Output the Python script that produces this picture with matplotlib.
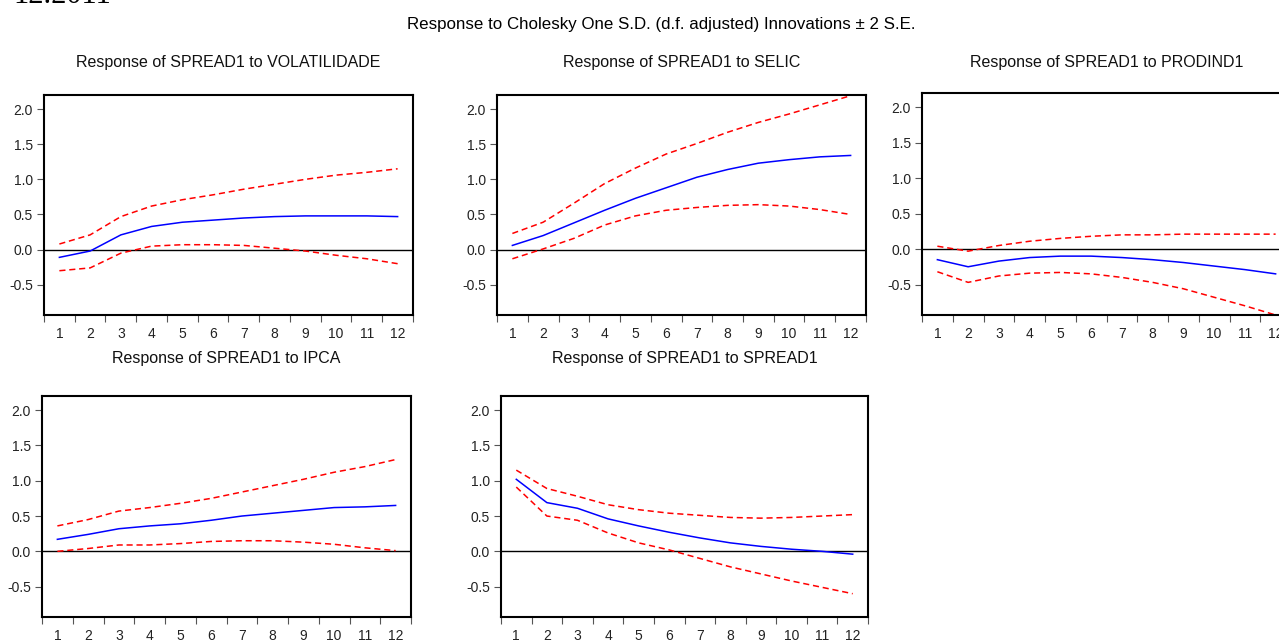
import matplotlib
matplotlib.use("Agg")
import matplotlib.pyplot as plt
from matplotlib.ticker import FixedLocator, NullFormatter, FixedFormatter

plt.rcParams['font.family'] = ['Liberation Sans', 'DejaVu Sans']

periods = list(range(1, 13))

# impulse responses: response, upper band, lower band
vol_resp = [-0.11, -0.02, 0.21, 0.33, 0.39, 0.42, 0.45, 0.47, 0.48, 0.48, 0.48, 0.47]
vol_up = [0.08, 0.21, 0.47, 0.62, 0.71, 0.78, 0.86, 0.93, 1.00, 1.06, 1.10, 1.15]
vol_lo = [-0.30, -0.26, -0.05, 0.05, 0.07, 0.07, 0.06, 0.02, -0.02, -0.08, -0.13, -0.20]

selic_resp = [0.06, 0.20, 0.38, 0.56, 0.73, 0.88, 1.03, 1.14, 1.23, 1.28, 1.32, 1.34]
selic_up = [0.23, 0.39, 0.66, 0.94, 1.16, 1.36, 1.51, 1.67, 1.81, 1.93, 2.06, 2.19]
selic_lo = [-0.13, 0.01, 0.16, 0.35, 0.48, 0.56, 0.60, 0.63, 0.64, 0.62, 0.57, 0.50]

prod_resp = [-0.15, -0.25, -0.17, -0.12, -0.10, -0.10, -0.12, -0.15, -0.19, -0.24, -0.29, -0.35]
prod_up = [0.04, -0.03, 0.05, 0.11, 0.15, 0.18, 0.20, 0.20, 0.21, 0.21, 0.21, 0.21]
prod_lo = [-0.32, -0.47, -0.38, -0.34, -0.33, -0.35, -0.40, -0.47, -0.56, -0.68, -0.80, -0.93]

ipca_resp = [0.17, 0.24, 0.32, 0.36, 0.39, 0.44, 0.50, 0.54, 0.58, 0.62, 0.63, 0.65]
ipca_up = [0.36, 0.45, 0.57, 0.62, 0.68, 0.75, 0.84, 0.93, 1.02, 1.12, 1.20, 1.30]
ipca_lo = [0.00, 0.04, 0.09, 0.09, 0.11, 0.14, 0.15, 0.15, 0.13, 0.10, 0.05, 0.01]

spread_resp = [1.02, 0.69, 0.61, 0.46, 0.36, 0.27, 0.19, 0.12, 0.07, 0.03, 0.00, -0.04]
spread_up = [1.15, 0.89, 0.78, 0.66, 0.59, 0.54, 0.51, 0.48, 0.47, 0.48, 0.50, 0.52]
spread_lo = [0.91, 0.50, 0.44, 0.26, 0.12, 0.02, -0.10, -0.22, -0.32, -0.42, -0.51, -0.60]

titles = ["Response of SPREAD1 to VOLATILIDADE", "Response of SPREAD1 to SELIC",
          "Response of SPREAD1 to PRODIND1", "Response of SPREAD1 to IPCA",
          "Response of SPREAD1 to SPREAD1"]
yticks = [-0.5, 0.0, 0.5, 1.0, 1.5, 2.0]

W, H = 1279, 644
fig = plt.figure(figsize=(W / 100, H / 100), dpi=100)

# panel boxes in pixels: left, top, right, bottom, title pad
boxes = [(44, 95, 413, 315, 20), (497, 95, 866, 315, 20), (922, 93, 1291, 315, 19),
         (42, 396, 411, 617, 24), (501, 396, 868, 617, 24)]
series = [(vol_resp, vol_up, vol_lo), (selic_resp, selic_up, selic_lo),
          (prod_resp, prod_up, prod_lo), (ipca_resp, ipca_up, ipca_lo),
          (spread_resp, spread_up, spread_lo)]

for (l, t, r, b, tpad), title, (resp, up, lo) in zip(boxes, titles, series):
    ax = fig.add_axes([l / W, 1 - b / H, (r - l) / W, (b - t) / H])
    ax.axhline(0, color='black', lw=1.0)
    ax.plot(periods, up, color='#ff0000', lw=1.1, dashes=(4, 2.5))
    ax.plot(periods, lo, color='#ff0000', lw=1.1, dashes=(4, 2.5))
    ax.plot(periods, resp, color='#0000ff', lw=1.1)
    ax.set_xlim(0.5, 12.5)
    ax.set_ylim(-0.93, 2.2)
    ax.set_yticks(yticks)
    ax.set_yticklabels([f"{v:.1f}" for v in yticks])
    # tick marks between periods, labels at the periods
    ax.xaxis.set_major_locator(FixedLocator([p + 0.5 for p in range(0, 13)]))
    ax.xaxis.set_major_formatter(NullFormatter())
    ax.xaxis.set_minor_locator(FixedLocator(periods))
    ax.xaxis.set_minor_formatter(FixedFormatter([str(p) for p in periods]))
    ax.tick_params(axis='x', which='major', direction='out', length=5, width=0.8, color='#555555')
    ax.tick_params(axis='x', which='minor', length=0, pad=9, labelsize=10, labelcolor='#222222')
    ax.tick_params(axis='y', direction='out', length=5, width=0.8, color='#555555',
                   labelsize=10, labelcolor='#222222', pad=3)
    for s in ax.spines.values():
        s.set_linewidth(1.5)
    ax.set_title(title, fontsize=11.5, pad=tpad, color='#111111')

fig.text(661 / W, 1 - 24 / H, "Response to Cholesky One S.D. (d.f. adjusted) Innovations \u00b1 2 S.E.",
         ha='center', va='center', fontsize=12.2)
fig.text(13 / W, 1 - 3 / H, "12.2011", ha='left', va='baseline', fontsize=22,
         family=['Liberation Serif', 'DejaVu Serif'])

fig.savefig("out.png", dpi=100)
